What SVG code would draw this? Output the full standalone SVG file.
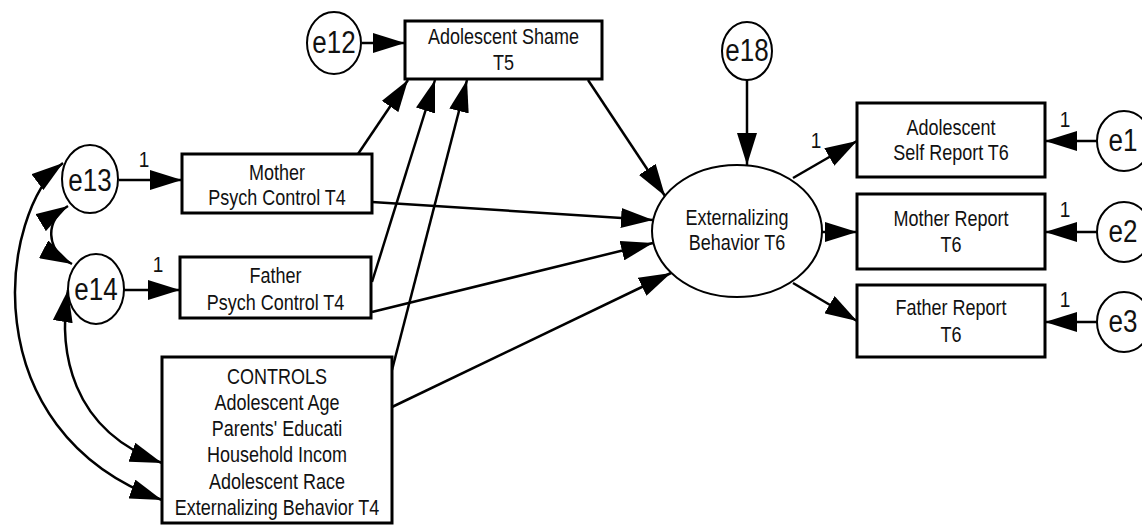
<svg xmlns="http://www.w3.org/2000/svg" width="1142" height="527" viewBox="0 0 1142 527">
<defs>
<marker id="arr" markerWidth="32" markerHeight="20" refX="32" refY="10" orient="auto-start-reverse" markerUnits="userSpaceOnUse"><path d="M0,0 L32,10 L0,20 z" fill="#000"/></marker>
<style>
.box{fill:#fff;stroke:#000;stroke-width:3}
.err{fill:#fff;stroke:#000;stroke-width:2}
.lbl{font-family:"Liberation Sans",Arial,sans-serif;font-size:18px;text-anchor:middle;fill:#111}
.one{font-family:"Liberation Sans",Arial,sans-serif;font-size:19px;text-anchor:middle;fill:#111}
.el{font-family:"Liberation Sans",Arial,sans-serif;font-size:26px;text-anchor:middle;fill:#111}
.c{fill:none;stroke:#000;stroke-width:2.5;marker-end:url(#arr)}
.d{fill:none;stroke:#000;stroke-width:2.5;marker-start:url(#arr);marker-end:url(#arr)}
</style>
</defs>
<rect width="1142" height="527" fill="#fff"/>
<g id="connectors">
<line class="c" x1="362" y1="43" x2="405" y2="43"/>
<line class="c" x1="119" y1="180" x2="182" y2="180"/>
<line class="c" x1="124" y1="290" x2="180" y2="290"/>
<line class="c" x1="358" y1="154" x2="408" y2="80"/>
<line class="c" x1="372" y1="282" x2="435" y2="80"/>
<line class="c" x1="392" y1="370" x2="467" y2="80"/>
<line class="c" x1="372" y1="202" x2="653" y2="220"/>
<line class="c" x1="372" y1="312" x2="653" y2="243"/>
<line class="c" x1="392" y1="407" x2="671" y2="273"/>
<line class="c" x1="588" y1="80" x2="665" y2="196"/>
<line class="c" x1="747" y1="80" x2="747" y2="165"/>
<line class="c" x1="793" y1="178" x2="857" y2="141"/>
<line class="c" x1="822" y1="232" x2="857" y2="232"/>
<line class="c" x1="793" y1="283" x2="857" y2="321"/>
<line class="c" x1="1097" y1="141" x2="1045" y2="141"/>
<line class="c" x1="1097" y1="232" x2="1045" y2="232"/>
<line class="c" x1="1097" y1="322" x2="1045" y2="322"/>
<path class="d" d="M68,206 C45,220 45,250 72,264"/>
<path class="d" d="M63,163 C0,210 -30,430 162,500"/>
<path class="d" d="M68,290 C58,350 70,430 162,463"/>
<text class="one" transform="translate(144,167) scale(1,1.17)">1</text>
<text class="one" transform="translate(158,272) scale(1,1.17)">1</text>
<text class="one" transform="translate(816,148) scale(1,1.17)">1</text>
<text class="one" transform="translate(1065,127) scale(1,1.17)">1</text>
<text class="one" transform="translate(1065,217) scale(1,1.17)">1</text>
<text class="one" transform="translate(1065,307) scale(1,1.17)">1</text>
</g>
<g id="shame">
<rect class="box" x="405" y="21" width="197" height="58"/>
<text class="lbl" transform="translate(503.5,44) scale(1,1.2)">Adolescent Shame</text>
<text class="lbl" transform="translate(503.5,70) scale(1,1.2)">T5</text>
</g>
<g id="mother">
<rect class="box" x="182" y="154" width="190" height="59"/>
<text class="lbl" transform="translate(277,180) scale(1,1.2)">Mother</text>
<text class="lbl" transform="translate(277,205) scale(1,1.2)">Psych Control T4</text>
</g>
<g id="father">
<rect class="box" x="180" y="257" width="191" height="61"/>
<text class="lbl" transform="translate(275.5,283) scale(1,1.2)">Father</text>
<text class="lbl" transform="translate(275.5,310) scale(1,1.2)">Psych Control T4</text>
</g>
<g id="controls">
<rect class="box" x="162" y="357" width="230" height="166"/>
<text class="lbl" transform="translate(277,384) scale(1,1.2)">CONTROLS</text>
<text class="lbl" transform="translate(277,410) scale(1,1.2)">Adolescent Age</text>
<text class="lbl" transform="translate(277,436) scale(1,1.2)">Parents' Educati</text>
<text class="lbl" transform="translate(277,462) scale(1,1.2)">Household Incom</text>
<text class="lbl" transform="translate(277,489) scale(1,1.2)">Adolescent Race</text>
<text class="lbl" transform="translate(277,515) scale(1,1.2)">Externalizing Behavior T4</text>
</g>
<g id="ext">
<ellipse class="err" cx="737" cy="231" rx="85" ry="66"/>
<text class="lbl" transform="translate(737,225) scale(1,1.2)">Externalizing</text>
<text class="lbl" transform="translate(737,250) scale(1,1.2)">Behavior T6</text>
</g>
<g id="selfreport">
<rect class="box" x="857" y="103" width="188" height="74"/>
<text class="lbl" transform="translate(951,135) scale(1,1.2)">Adolescent</text>
<text class="lbl" transform="translate(951,160) scale(1,1.2)">Self Report T6</text>
</g>
<g id="motherreport">
<rect class="box" x="857" y="194" width="188" height="75"/>
<text class="lbl" transform="translate(951,226) scale(1,1.2)">Mother Report</text>
<text class="lbl" transform="translate(951,252) scale(1,1.2)">T6</text>
</g>
<g id="fatherreport">
<rect class="box" x="857" y="285" width="188" height="72"/>
<text class="lbl" transform="translate(951,315) scale(1,1.2)">Father Report</text>
<text class="lbl" transform="translate(951,342) scale(1,1.2)">T6</text>
</g>
<g id="e12"><ellipse class="err" cx="334" cy="43" rx="27" ry="31"/><text class="el" transform="translate(334,53) scale(1,1.2)">e12</text></g>
<g id="e13"><ellipse class="err" cx="90" cy="179" rx="28" ry="34"/><text class="el" transform="translate(90,191) scale(1,1.2)">e13</text></g>
<g id="e14"><ellipse class="err" cx="96" cy="289" rx="28" ry="35"/><text class="el" transform="translate(96,300) scale(1,1.2)">e14</text></g>
<g id="e18"><ellipse class="err" cx="747" cy="51" rx="25" ry="29"/><text class="el" transform="translate(747,61) scale(1,1.2)">e18</text></g>
<g id="e1"><ellipse class="err" cx="1124" cy="141" rx="27" ry="30"/><text class="el" transform="translate(1123,151) scale(1,1.2)">e1</text></g>
<g id="e2"><ellipse class="err" cx="1124" cy="232" rx="27" ry="30"/><text class="el" transform="translate(1123,242) scale(1,1.2)">e2</text></g>
<g id="e3"><ellipse class="err" cx="1124" cy="322" rx="27" ry="30"/><text class="el" transform="translate(1123,332) scale(1,1.2)">e3</text></g>
</svg>
